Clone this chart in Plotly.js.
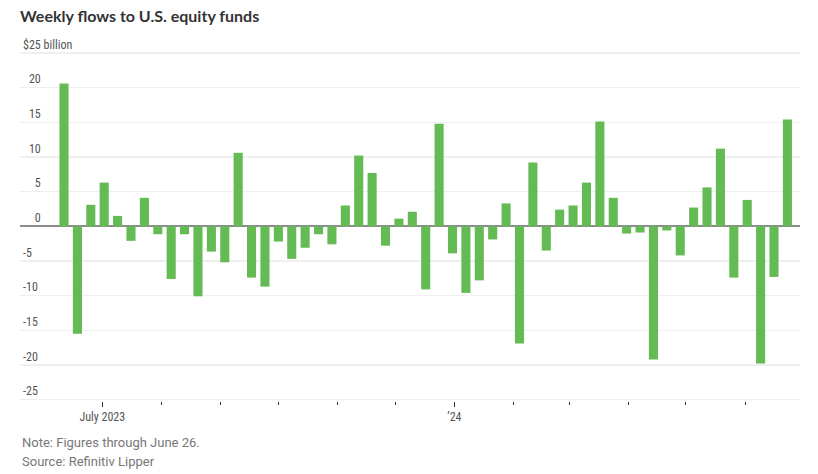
<!DOCTYPE html>
<html>
<head>
<meta charset="utf-8">
<script src="https://cdn.plot.ly/plotly-3.0.1.min.js"></script>
<style>
  html, body { margin: 0; padding: 0; background: #ffffff; }
  #chart { width: 818px; height: 474px; }
</style>
</head>
<body>
<div id="chart"></div>
<script>
// Week-ending dates (Wednesdays) of the weekly fund-flow reports
const weeks = [
  "2023-06-14","2023-06-21","2023-06-28","2023-07-05","2023-07-12","2023-07-19","2023-07-26",
  "2023-08-02","2023-08-09","2023-08-16","2023-08-23","2023-08-30","2023-09-06","2023-09-13",
  "2023-09-20","2023-09-27","2023-10-04","2023-10-11","2023-10-18","2023-10-25","2023-11-01",
  "2023-11-08","2023-11-15","2023-11-22","2023-11-29","2023-12-06","2023-12-13","2023-12-20",
  "2023-12-27","2024-01-03","2024-01-10","2024-01-17","2024-01-24","2024-01-31","2024-02-07",
  "2024-02-14","2024-02-21","2024-02-28","2024-03-06","2024-03-13","2024-03-20","2024-03-27",
  "2024-04-03","2024-04-10","2024-04-17","2024-04-24","2024-05-01","2024-05-08","2024-05-15",
  "2024-05-22","2024-05-29","2024-06-05","2024-06-12","2024-06-19","2024-06-26"
];

// Weekly flows, $ billion
const flows = [
  20.6, -15.5, 3.1, 6.3, 1.5, -2.1, 4.1,
  -1.15, -7.6, -1.15, -10.1, -3.65, -5.2, 10.6,
  -7.4, -8.7, -2.2, -4.7, -3.1, -1.15, -2.6,
  3.0, 10.2, 7.7, -2.8, 1.1, 2.1, -9.1,
  14.8, -3.9, -9.6, -7.8, -1.9, 3.3, -16.9,
  9.2, -3.5, 2.4, 3.0, 6.3, 15.1, 4.1,
  -1.05, -0.9, -19.2, -0.6, -4.2, 2.7, 5.6,
  11.2, -7.4, 3.8, -19.8, -7.3, 15.4
];

const yTickVals = [25, 20, 15, 10, 5, 0, -5, -10, -15, -20, -25];
const yTickText = ["$25 billion", "\u200720", "\u200715", "\u200710", "\u2007\u20075", "\u2007\u20070",
                   "-5", "-10", "-15", "-20", "-25"];

const xTickVals = ["2023-07-01", "2024-01-01"];
const xTickText = ["July 2023", "\u201924"];
const monthTicks = [
  "2023-07-01","2023-08-01","2023-09-01","2023-10-01","2023-11-01","2023-12-01",
  "2024-01-01","2024-02-01","2024-03-01","2024-04-01","2024-05-01","2024-06-01"
];

const DAY = 86400000;

const trace = {
  type: "bar",
  x: weeks,
  y: flows,
  xperiod: 7 * DAY,
  xperiod0: "2023-06-07 12:00",
  xperiodalignment: "middle",
  width: 4.75 * DAY,
  marker: { color: "#64bb53", line: { width: 0 } },
  hoverinfo: "x+y"
};

const labelFont = { family: "Liberation Sans Narrow, Roboto Condensed, Arial Narrow, Roboto, sans-serif", size: 12, color: "#555555" };

const layout = {
  width: 818,
  height: 474,
  margin: { l: 20, r: 18, t: 37, b: 73, pad: 0 },
  paper_bgcolor: "#ffffff",
  plot_bgcolor: "#ffffff",
  showlegend: false,
  title: {
    text: "Weekly flows to U.S. equity funds",
    font: { family: "Lato, Roboto, sans-serif", size: 16, color: "#333333", weight: 700 },
    x: 0, xref: "paper", xanchor: "left",
    y: 1 - 16 / 474, yref: "container", yanchor: "middle"
  },
  xaxis: {
    type: "date",
    range: ["2023-05-19", "2024-06-29 14:00"],
    tickvals: xTickVals,
    ticktext: xTickText,
    ticks: "outside",
    ticklen: 5,
    tickwidth: 1,
    tickcolor: "#333333",
    showgrid: false,
    zeroline: false,
    showline: false,
    tickfont: labelFont,
    minor: { tickmode: "array", tickvals: monthTicks, ticks: "outside", ticklen: 3, tickwidth: 1, tickcolor: "#333333", showgrid: false },
    fixedrange: true,
    automargin: false
  },
  yaxis: {
    range: [-25.2, 27.3],
    tickvals: yTickVals,
    ticktext: yTickText,
    ticklabelposition: "inside top",
    ticks: "",
    showgrid: true,
    gridcolor: "#efefef",
    gridwidth: 1.5,
    zeroline: true,
    zerolinecolor: "#8c8c8c",
    zerolinewidth: 2,
    showline: false,
    tickfont: labelFont,
    fixedrange: true,
    automargin: false
  },
  annotations: [
    {
      text: "Note: Figures through June 26.",
      xref: "paper", yref: "paper", x: 0, y: (401 - 442) / 364,
      xanchor: "left", yanchor: "middle", showarrow: false,
      font: { family: "Liberation Sans Narrow, Roboto, sans-serif", size: 13, color: "#777777" }
    },
    {
      text: "Source: Refinitiv Lipper",
      xref: "paper", yref: "paper", x: 0, y: (401 - 461) / 364,
      xanchor: "left", yanchor: "middle", showarrow: false,
      font: { family: "Liberation Sans Narrow, Roboto, sans-serif", size: 13, color: "#777777" }
    }
  ]
};

Plotly.newPlot("chart", [trace], layout, { displayModeBar: false, staticPlot: true });
</script>
</body>
</html>
